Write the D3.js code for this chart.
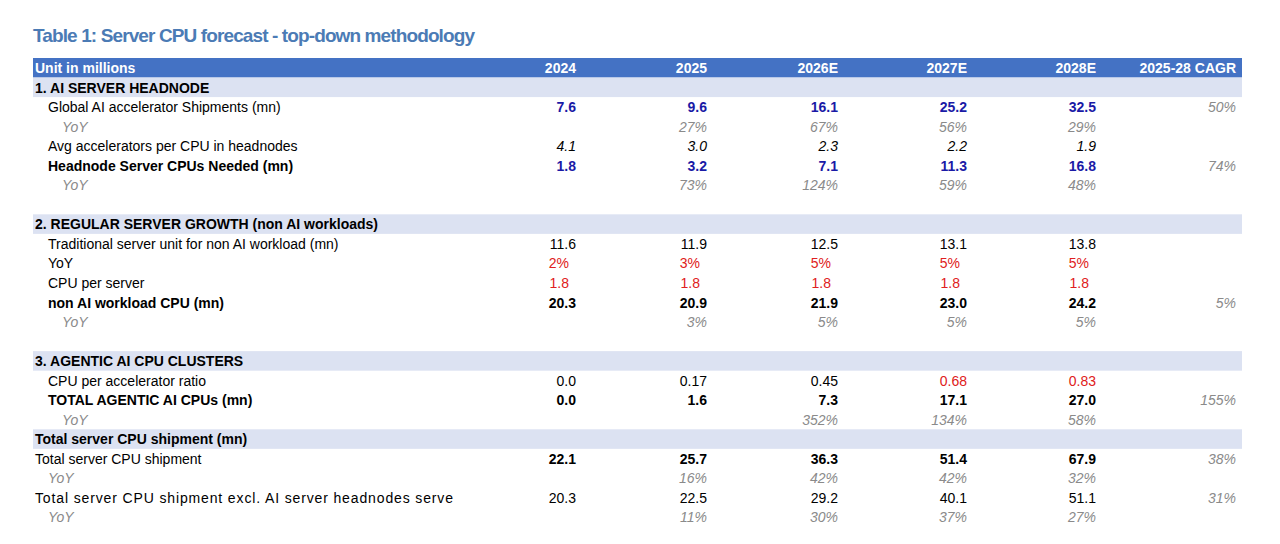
<!DOCTYPE html>
<html><head><meta charset="utf-8">
<script src="https://cdn.jsdelivr.net/npm/d3@7"></script>
<style>body{margin:0;background:#fff;}text{font-family:"Liberation Sans",Arial,sans-serif;}</style>
</head><body><svg id="chart" width="1280" height="544"></svg>
<script>
const columns = ['2024', '2025', '2026E', '2027E', '2028E', '2025-28 CAGR'];

// kind: sec = section band, item, yoy, blank
const rowLabels = [
  ['sec', '1. AI SERVER HEADNODE'],
  ['item', 'Global AI accelerator Shipments (mn)'],
  ['yoy', 'YoY'],
  ['item', 'Avg accelerators per CPU in headnodes'],
  ['bold', 'Headnode Server CPUs Needed (mn)'],
  ['yoy', 'YoY'],
  ['blank', ''],
  ['sec', '2. REGULAR SERVER GROWTH (non AI workloads)'],
  ['item', 'Traditional server unit for non AI workload (mn)'],
  ['item', 'YoY'],
  ['item', 'CPU per server'],
  ['bold', 'non AI workload CPU (mn)'],
  ['yoy', 'YoY'],
  ['blank', ''],
  ['sec', '3. AGENTIC AI CPU CLUSTERS'],
  ['item', 'CPU per accelerator ratio'],
  ['bold', 'TOTAL AGENTIC AI CPUs (mn)'],
  ['yoy', 'YoY'],
  ['sec', 'Total server CPU shipment (mn)'],
  ['top', 'Total server CPU shipment'],
  ['yoy2', 'YoY'],
  ['top', 'Total server CPU shipment excl. AI server headnodes serve'],
  ['yoy2', 'YoY']
];

const rowValues = [
  [],
  ['7.6', '9.6', '16.1', '25.2', '32.5', '50%'],
  ['', '27%', '67%', '56%', '29%', ''],
  ['4.1', '3.0', '2.3', '2.2', '1.9', ''],
  ['1.8', '3.2', '7.1', '11.3', '16.8', '74%'],
  ['', '73%', '124%', '59%', '48%', ''],
  [],
  [],
  ['11.6', '11.9', '12.5', '13.1', '13.8', ''],
  ['2%', '3%', '5%', '5%', '5%', ''],
  ['1.8', '1.8', '1.8', '1.8', '1.8', ''],
  ['20.3', '20.9', '21.9', '23.0', '24.2', '5%'],
  ['', '3%', '5%', '5%', '5%', ''],
  [],
  [],
  ['0.0', '0.17', '0.45', '0.68', '0.83', ''],
  ['0.0', '1.6', '7.3', '17.1', '27.0', '155%'],
  ['', '', '352%', '134%', '58%', ''],
  [],
  ['22.1', '25.7', '36.3', '51.4', '67.9', '38%'],
  ['', '16%', '42%', '42%', '32%', ''],
  ['20.3', '22.5', '29.2', '40.1', '51.1', '31%'],
  ['', '11%', '30%', '37%', '27%', '']
];

// per-cell styles: b=blue bold, i=italic, r=red, k=bold black, n=normal, g=grey italic
const rowStyles = {1: 'b', 3: 'i', 4: 'b', 8: 'n', 9: 'r', 10: 'r', 11: 'k', 15: 'n', 16: 'k', 19: 'k', 21: 'n'};
const redCells = {15: [3, 4]};

const svg = d3.select('#chart');
const L = 33, R = 1242;
const x = d3.scalePoint().domain(columns).range([576, 1236]);
const colRight = {'2024': 576, '2025': 707, '2026E': 838, '2027E': 967, '2028E': 1096, '2025-28 CAGR': 1236};
const y = d3.scaleBand().domain(d3.range(-1, rowLabels.length)).range([58, 527]);

svg.append('text').attr('x', 33).attr('y', 42).attr('fill', '#4b7bb5')
  .attr('font-size', 19).attr('font-weight', 'bold').attr('textLength', 442)
  .text('Table 1: Server CPU forecast - top-down methodology');

// header
svg.append('rect').attr('x', L).attr('y', y(-1)).attr('width', R - L).attr('height', y.bandwidth()).attr('fill', '#4472c4');
svg.append('text').attr('x', 35).attr('y', y(-1) + 15).attr('fill', '#fff').attr('font-size', 14).attr('font-weight', 'bold').text('Unit in millions');
columns.forEach(c => {
  svg.append('text').attr('x', colRight[c]).attr('y', y(-1) + 15).attr('text-anchor', 'end')
    .attr('fill', '#fff').attr('font-size', 14).attr('font-weight', 'bold').text(c);
});

rowLabels.forEach(([kind, label], i) => {
  const top = y(i), base = top + 15;
  if (kind === 'sec') {
    svg.append('rect').attr('x', L).attr('y', top).attr('width', R - L).attr('height', y.bandwidth()).attr('fill', '#dce2f2');
  }
  const lx = {sec: 35, item: 48, bold: 48, yoy: 62, top: 35, yoy2: 48, blank: 35}[kind];
  const lab = svg.append('text').attr('x', lx).attr('y', base).attr('font-size', 14).text(label);
  if (kind === 'sec' || kind === 'bold') lab.attr('font-weight', 'bold').attr('fill', '#000');
  if (kind === 'yoy' || kind === 'yoy2') lab.attr('font-style', 'italic').attr('fill', '#8a8a8a');
  if (kind === 'top') lab.attr('textLength', label.length > 30 ? 418 : null);

  rowValues[i].forEach((v, j) => {
    if (!v) return;
    const st = rowStyles[i] || 'g';
    const t = svg.append('text').attr('x', colRight[columns[j]] - (st === 'r' && j < 5 ? 7 : 0))
      .attr('y', base).attr('text-anchor', 'end').attr('font-size', 14).text(v);
    let fill = '#000';
    if (j === 5) { t.attr('font-style', 'italic'); fill = '#8a8a8a'; }
    else if (st === 'b') { t.attr('font-weight', 'bold'); fill = '#1a1aa6'; }
    else if (st === 'k') { t.attr('font-weight', 'bold'); }
    else if (st === 'i') { t.attr('font-style', 'italic'); }
    else if (st === 'r') { fill = '#e02020'; }
    else if (st === 'g') { t.attr('font-style', 'italic'); fill = '#8a8a8a'; }
    if (redCells[i] && redCells[i].includes(j)) fill = '#e02020';
    t.attr('fill', fill);
  });
});
</script></body></html>
